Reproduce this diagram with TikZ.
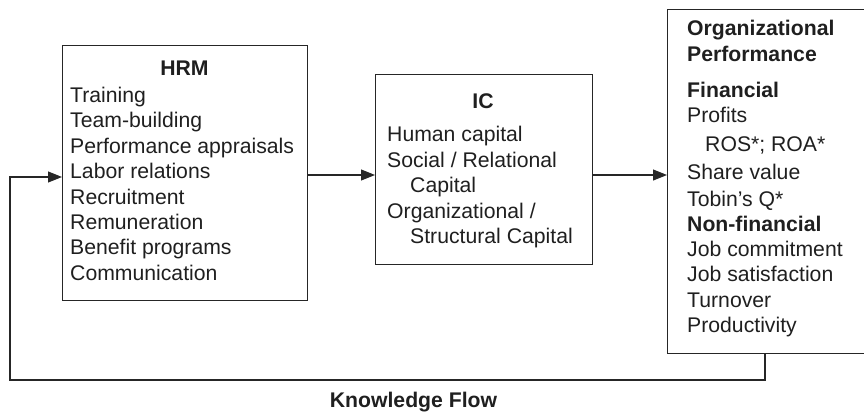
\documentclass[tikz,border=0pt]{standalone}
\usepackage{fontspec}
\setmainfont{Liberation Sans}
\usetikzlibrary{arrows.meta}
\begin{document}
\begin{tikzpicture}[x=1pt,y=-1pt,
  box/.style={draw=black!85,line width=1.1pt,rectangle,inner sep=0pt,anchor=north west},
  txt/.style={anchor=base west,inner sep=0pt,font=\fontsize{21.2}{25}\selectfont,text=black!88},
  ttl/.style={txt,font=\fontsize{21.2}{25}\selectfont\bfseries},
  arr/.style={draw=black!85,line width=1.1pt,-{Triangle[length=14pt,width=11pt]}}]
\useasboundingbox (0,0) rectangle (864,412);
% boxes
\node[box,minimum width=245pt,minimum height=255pt] (hrm) at (62,45) {};
\node[box,minimum width=217pt,minimum height=190pt] (ic) at (375,74) {};
\node[box,minimum width=200pt,minimum height=344pt] (op) at (667,9) {};
% HRM text
\node[ttl,anchor=base] (hrmT) at (184.5,75.5) {HRM};
\node[txt] (h1) at (70,102.5) {Training};
\node[txt] (h2) at (70,127.9) {Team-building};
\node[txt] (h3) at (70,153.3) {Performance appraisals};
\node[txt] (h4) at (70,178.7) {Labor relations};
\node[txt] (h5) at (70,204.1) {Recruitment};
\node[txt] (h6) at (70,229.5) {Remuneration};
\node[txt] (h7) at (70,254.9) {Benefit programs};
\node[txt] (h8) at (70,280.3) {Communication};
% IC text
\node[ttl,anchor=base] (icT) at (483,108.5) {IC};
\node[txt] (c1) at (387,141.5) {Human capital};
\node[txt] (c2) at (387,167.1) {Social / Relational};
\node[txt] (c3) at (410,192.7) {Capital};
\node[txt] (c4) at (387,218.3) {Organizational /};
\node[txt] (c5) at (410,243.9) {Structural Capital};
% OP text
\node[ttl] (o1) at (687,36) {Organizational};
\node[ttl] (o2) at (687,62) {Performance};
\node[ttl] (o3) at (687,97.5) {Financial};
\node[txt] (o4) at (687,122.5) {Profits};
\node[txt] (o5) at (705,151.5) {ROS*; ROA*};
\node[txt] (o6) at (687,179.5) {Share value};
\node[txt] (o7) at (687,206.5) {Tobin’s Q*};
\node[ttl] (o8) at (687,231.5) {Non-financial};
\node[txt] (o9) at (687,256.5) {Job commitment};
\node[txt] (o10) at (687,281.5) {Job satisfaction};
\node[txt] (o11) at (687,307) {Turnover};
\node[txt] (o12) at (687,332.5) {Productivity};
% connectors
\coordinate (ya) at (0,175);
\draw[arr] (hrm.east |- ya) -- (ic.west |- ya);
\draw[arr] (ic.east |- ya) -- (op.west |- ya);
\coordinate (kfR) at (765,380);
\coordinate (kfL) at (10,380);
\coordinate (fbin) at (10,177);
\draw[arr] (op.south -| kfR) -- (kfR) -- (kfL) -- (fbin) -- (hrm.west |- fbin);
\node[ttl,anchor=base] (kf) at (413.5,407.5) {Knowledge Flow};
\end{tikzpicture}
\end{document}
